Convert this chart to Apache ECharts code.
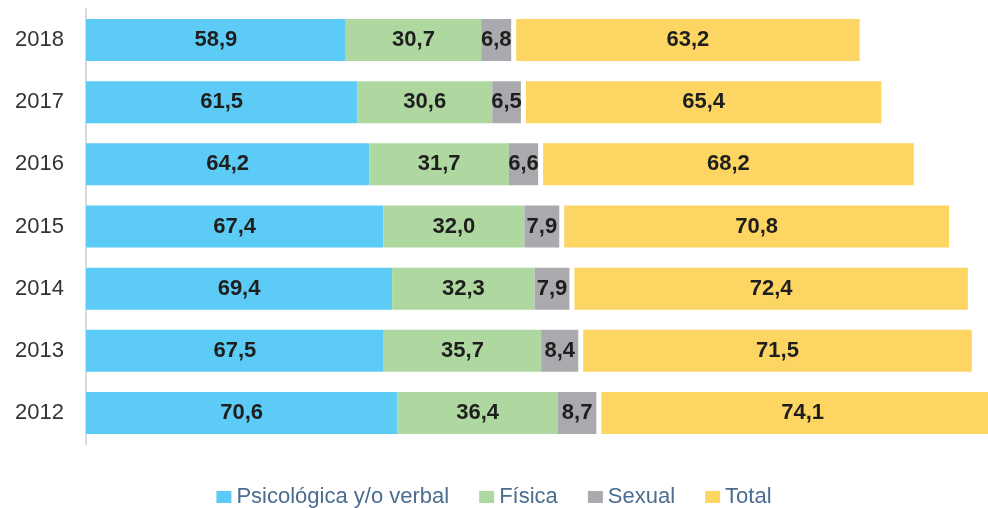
<!DOCTYPE html>
<html>
<head>
<meta charset="utf-8">
<script src="https://cdn.jsdelivr.net/npm/echarts@6/dist/echarts.min.js"></script>
<style>
  html, body { margin: 0; padding: 0; background: #fff; }
  #bar-chart { width: 988px; height: 508px; }
</style>
</head>
<body>
<div id="bar-chart"></div>
<script>
const years = ['2012', '2013', '2014', '2015', '2016', '2017', '2018']
const psicologica = [70.6, 67.5, 69.4, 67.4, 64.2, 61.5, 58.9]
const fisica = [36.4, 35.7, 32.3, 32.0, 31.7, 30.6, 30.7]
const sexual = [8.7, 8.4, 7.9, 7.9, 6.6, 6.5, 6.8]
const total = [74.1, 71.5, 72.4, 70.8, 68.2, 65.4, 63.2]

const FONT = '"Liberation Sans", Arial, sans-serif'
const fmt = v => v.toFixed(1).replace('.', ',')
const labelStyle = {
  show: true,
  position: 'inside',
  color: '#1e1e1e',
  fontWeight: 'bold',
  fontSize: 22,
  fontFamily: FONT,
  formatter: p => fmt(p.value)
}

const chart = echarts.init(document.getElementById('bar-chart'))

// total bars sit after the stacked part, on their own (hidden) scale
function renderTotal(params, api) {
  const idx = api.value(1)
  const v = api.value(0)
  const base = psicologica[idx] + fisica[idx] + sexual[idx]
  const x0 = chart.convertToPixel({ xAxisIndex: 0 }, base) + 5
  const yc = api.coord([0, idx])[1]
  const w = api.size([v, 0])[0]
  const h = 42
  return {
    type: 'group',
    children: [
      {
        type: 'rect',
        shape: { x: x0, y: yc - h / 2, width: w, height: h },
        style: { fill: '#fcd562' }
      },
      {
        type: 'text',
        x: x0 + w / 2,
        y: yc,
        style: {
          text: fmt(v),
          align: 'center',
          verticalAlign: 'middle',
          fill: '#1e1e1e',
          font: 'bold 22px ' + FONT
        }
      }
    ]
  }
}

const option = {
  animation: false,
  grid: { left: 86, right: 0, top: 9, bottom: 64 },
  legend: {
    top: 481,
    left: 'center',
    itemWidth: 15,
    itemHeight: 12,
    itemGap: 30,
    icon: 'rect',
    textStyle: { color: '#4b6d90', fontSize: 22, fontFamily: FONT },
    data: ['Psicológica y/o verbal', 'Física', 'Sexual', 'Total']
  },
  xAxis: [
    { type: 'value', min: 0, max: 204.5, show: false },
    { type: 'value', min: 0, max: 166, show: false }
  ],
  yAxis: {
    type: 'category',
    data: years,
    axisLine: { show: true, lineStyle: { color: '#dadada', width: 2 } },
    axisTick: { show: false },
    axisLabel: { color: '#333', fontSize: 22, margin: 22, fontFamily: FONT }
  },
  series: [
    {
      name: 'Psicológica y/o verbal',
      type: 'bar',
      stack: 'a',
      barWidth: 42,
      data: psicologica,
      itemStyle: { color: '#5ccbf5' },
      label: labelStyle
    },
    {
      name: 'Física',
      type: 'bar',
      stack: 'a',
      barWidth: 42,
      data: fisica,
      itemStyle: { color: '#afd8a0' },
      label: labelStyle
    },
    {
      name: 'Sexual',
      type: 'bar',
      stack: 'a',
      barWidth: 42,
      data: sexual,
      itemStyle: { color: '#aaaaae' },
      label: labelStyle
    },
    {
      name: 'Total',
      type: 'custom',
      xAxisIndex: 1,
      color: '#fcd562',
      itemStyle: { color: '#fcd562' },
      encode: { x: 0, y: 1 },
      data: total.map((v, i) => [v, i]),
      renderItem: renderTotal
    }
  ]
}

chart.setOption(option)
</script>
</body>
</html>
